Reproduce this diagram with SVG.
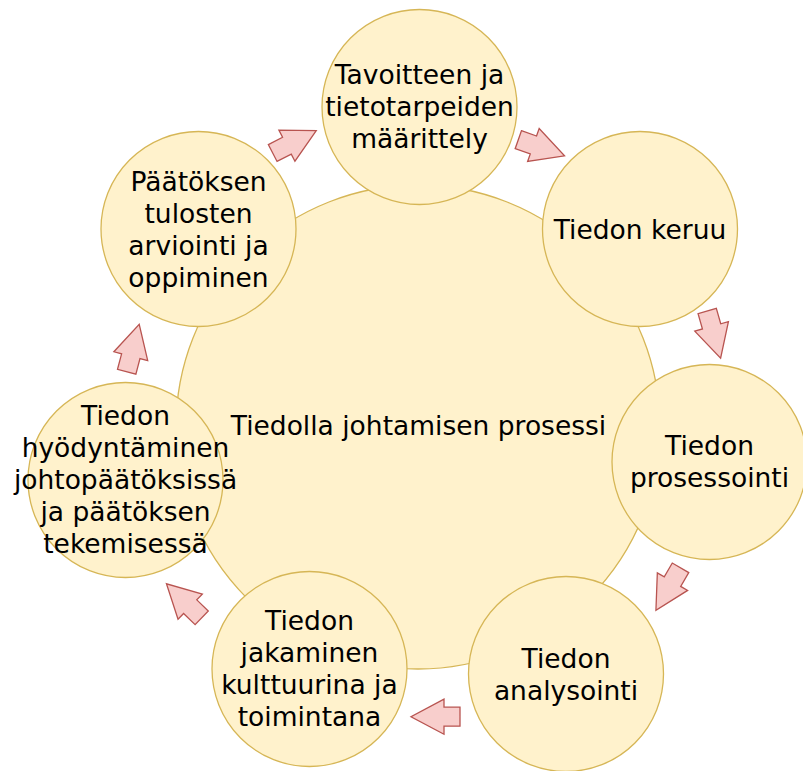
<svg xmlns="http://www.w3.org/2000/svg" xmlns:xlink="http://www.w3.org/1999/xlink" width="803" height="771" viewBox="0 0 803 771">
<style>
.c{fill:#fff2cc;stroke:#d6b656;stroke-width:1.3}
.t{font-family:"DejaVu Sans",Verdana,sans-serif;font-size:26.5px;fill:#000;text-anchor:middle}
.a{fill:#f8cecc;stroke:#b85450;stroke-width:1.3;stroke-linejoin:miter}
</style>
<defs>
<path id="arr" d="M0,-9.5 L16,-9.5 L16,-17.5 L49,0 L16,17.5 L16,9.5 L0,9.5 Z"/>
</defs>
<rect width="803" height="771" fill="#ffffff"/>
<g id="center">
<circle class="c" cx="418" cy="427" r="242"/>
<text class="t" x="418.5" y="435">Tiedolla johtamisen prosessi</text>
</g>
<g id="n1">
<circle class="c" cx="419.5" cy="107" r="97.5"/>
<text class="t"><tspan x="419.5" y="84">Tavoitteen ja</tspan><tspan x="419.5" y="116">tietotarpeiden</tspan><tspan x="419.5" y="148">määrittely</tspan></text>
</g>
<g id="n2">
<circle class="c" cx="640" cy="229" r="97.5"/>
<text class="t" x="640" y="239">Tiedon keruu</text>
</g>
<g id="n3">
<circle class="c" cx="709.5" cy="462" r="97.5"/>
<text class="t"><tspan x="709.5" y="455">Tiedon</tspan><tspan x="709.5" y="487">prosessointi</tspan></text>
</g>
<g id="n4">
<circle class="c" cx="566" cy="674" r="97.5"/>
<text class="t"><tspan x="566" y="668">Tiedon</tspan><tspan x="566" y="700">analysointi</tspan></text>
</g>
<g id="n5">
<circle class="c" cx="309.5" cy="669" r="97.5"/>
<text class="t"><tspan x="309.5" y="630">Tiedon</tspan><tspan x="309.5" y="662">jakaminen</tspan><tspan x="309.5" y="694">kulttuurina ja</tspan><tspan x="309.5" y="726">toimintana</tspan></text>
</g>
<g id="n6">
<circle class="c" cx="125.5" cy="480" r="97.5"/>
<text class="t"><tspan x="125.5" y="424.5">Tiedon</tspan><tspan x="125.5" y="456.5">hyödyntäminen</tspan><tspan x="125.5" y="488.5">johtopäätöksissä</tspan><tspan x="125.5" y="520.5">ja päätöksen</tspan><tspan x="125.5" y="552.5">tekemisessä</tspan></text>
</g>
<g id="n7">
<circle class="c" cx="198.5" cy="229" r="97.5"/>
<text class="t"><tspan x="198.5" y="191">Päätöksen</tspan><tspan x="198.5" y="223">tulosten</tspan><tspan x="198.5" y="255">arviointi ja</tspan><tspan x="198.5" y="287">oppiminen</tspan></text>
</g>
<g id="connectors">
<use xlink:href="#arr" class="a" transform="translate(272.7,153) rotate(-27.3)"/>
<use xlink:href="#arr" class="a" transform="translate(518.3,139.7) rotate(19.3)"/>
<use xlink:href="#arr" class="a" transform="translate(707.2,311) rotate(74.1)"/>
<use xlink:href="#arr" class="a" transform="translate(680.5,567.8) rotate(120.1)"/>
<use xlink:href="#arr" class="a" transform="translate(460,716.7) rotate(180)"/>
<use xlink:href="#arr" class="a" transform="translate(201.7,617.8) rotate(-136)"/>
<use xlink:href="#arr" class="a" transform="translate(126.7,371.7) rotate(-75.2)"/>
</g>
</svg>
